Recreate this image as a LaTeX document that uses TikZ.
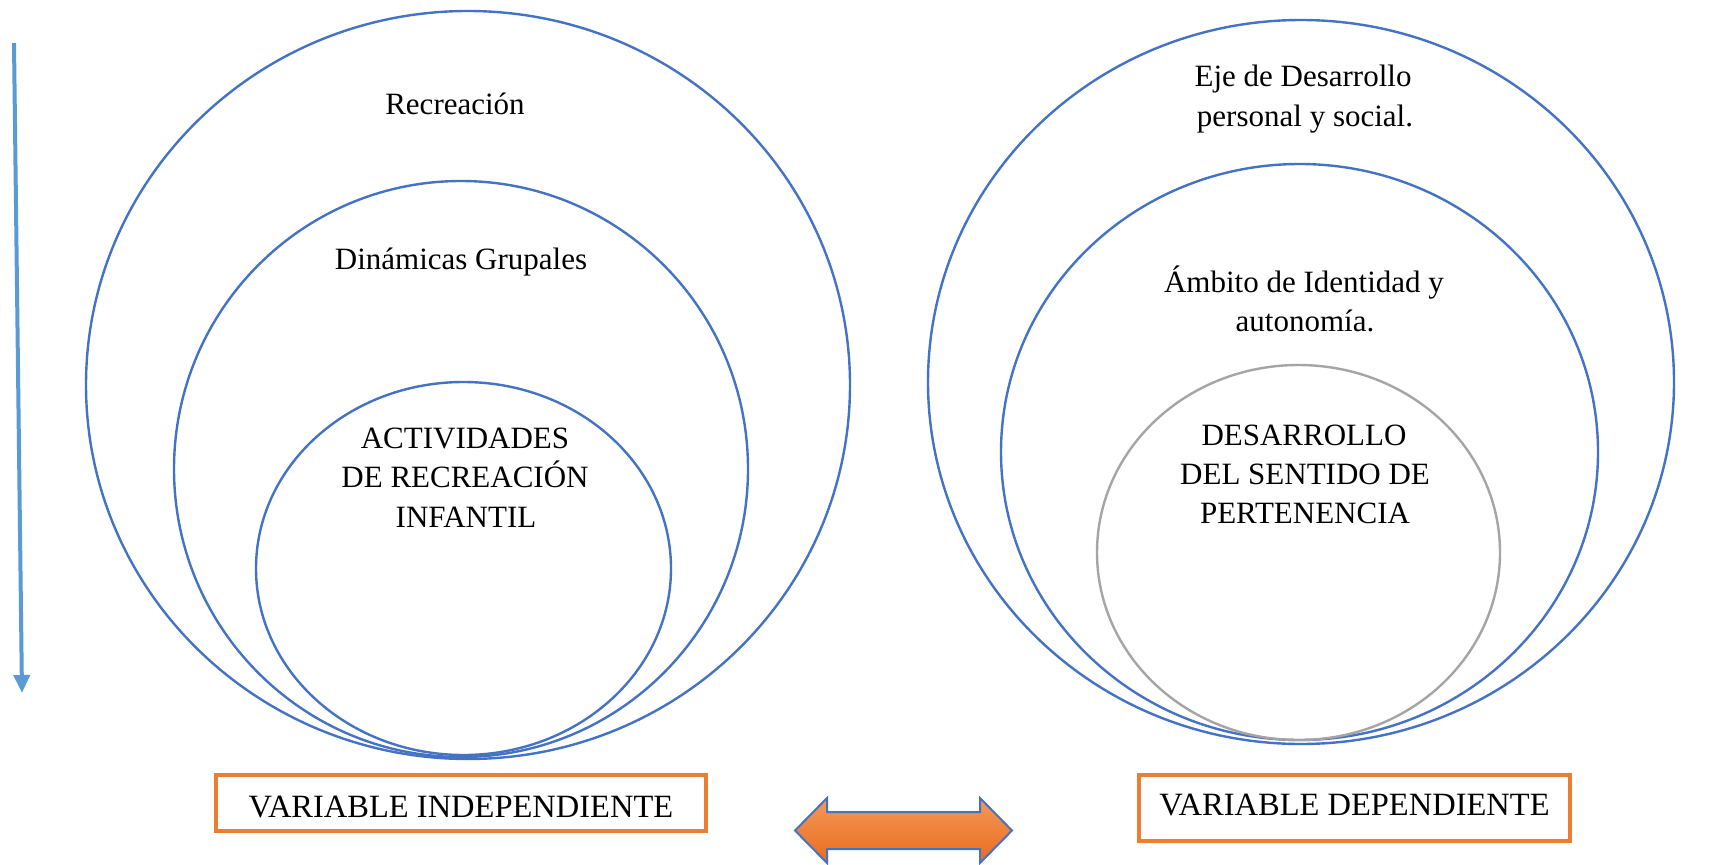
\documentclass[tikz,border=0pt]{standalone}
\usepackage{fontspec}
\setmainfont{Liberation Serif}
\usetikzlibrary{arrows.meta}
\definecolor{cblue}{HTML}{4472C4}
\definecolor{cgray}{HTML}{A5A5A5}
\definecolor{corange}{HTML}{ED7D31}
\definecolor{clight}{HTML}{5B9BD5}
\definecolor{otop}{HTML}{F4985A}
\definecolor{obot}{HTML}{EA6C1C}
\tikzset{
  ring/.style={draw=cblue, line width=2.4pt},
  gring/.style={draw=cgray, line width=2.4pt},
  lbl/.style={anchor=base, inner sep=0pt, font=\fontsize{31}{38}\selectfont},
  varbox/.style={draw=corange, line width=4pt, inner sep=0pt, font=\fontsize{32.5}{38}\selectfont},
  varrow/.style={draw=clight, line width=4pt, -{Triangle[length=18pt,width=16pt]}},
  dbl/.style={draw=cblue, line width=2pt, top color=otop, bottom color=obot, line join=miter}
}
\begin{document}
\begin{tikzpicture}[x=1pt,y=-1pt]
\useasboundingbox[fill=white] (0,0) rectangle (1736,864);

% left set of ellipses
\draw[ring] (468,385) ellipse [x radius=382, y radius=374];
\draw[ring] (461,469) ellipse [x radius=287, y radius=288];
\draw[ring] (463.5,568.5) ellipse [x radius=207.5, y radius=186.5];

% right set of ellipses
\draw[ring] (1301,382) ellipse [x radius=373, y radius=362];
\draw[ring] (1299.5,452) ellipse [x radius=298.5, y radius=288];
\draw[gring] (1298.5,552.5) ellipse [x radius=201.5, y radius=187.5];

% left labels
\node[lbl] (rec) at (455,115) {Recreación};
\node[lbl] (din) at (461,269) {Dinámicas Grupales};
\node[lbl] (act1) at (465,448) {ACTIVIDADES};
\node[lbl] (act2) at (465,487) {DE RECREACIÓN};
\node[lbl] (act3) at (466,527) {INFANTIL};

% right labels
\node[lbl] (eje1) at (1303,87) {Eje de Desarrollo};
\node[lbl] (eje2) at (1305,126) {personal y social.};
\node[lbl] (amb1) at (1304,292) {Ámbito de Identidad y};
\node[lbl] (amb2) at (1305,331) {autonomía.};
\node[lbl] (des1) at (1304,445) {DESARROLLO};
\node[lbl] (des2) at (1305,484) {DEL SENTIDO DE};
\node[lbl] (des3) at (1305,523) {PERTENENCIA};

% variable boxes
\node[varbox, minimum width=490pt, minimum height=56pt, text height=28pt, text depth=0pt] (vi) at (461,803) {VARIABLE INDEPENDIENTE};
\node[varbox, minimum width=431pt, minimum height=66pt, text height=21pt, text depth=7pt] (vd) at (1354.5,808) {VARIABLE DEPENDIENTE};

% left vertical arrow
\coordinate (atop) at (14,43);
\coordinate (abot) at (22,693);
\draw[varrow] (atop) -- (abot);

% double arrow between the variables
\coordinate (dl) at (795,830.5);
\coordinate (dr) at (1012,830.5);
\path[dbl] (dl) -- (827,798) -- (827,812) -- (980,812) -- (980,798) -- (dr)
  -- (980,863) -- (980,849) -- (827,849) -- (827,863) -- cycle;
\end{tikzpicture}
\end{document}
